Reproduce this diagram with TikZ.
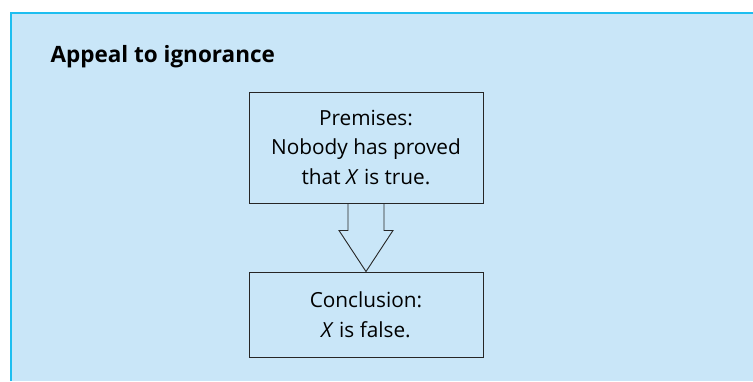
\documentclass[tikz,border=0pt]{standalone}
\usepackage{fontspec}
\setmainfont{Open Sans}
\usetikzlibrary{calc}
\definecolor{panelfill}{HTML}{C9E6F8}
\definecolor{panelline}{HTML}{1EBEF0}
\begin{document}
\begin{tikzpicture}[x=1pt,y=-1pt,
  argbox/.style={draw=black!85,line width=0.9pt,minimum width=234pt,align=center,font=\fontsize{20.8}{29.5}\selectfont,inner sep=0pt},
  bigarrow/.style={draw=black!85,line width=0.9pt,line join=miter}]
\useasboundingbox (0,0) rectangle (753,381);
\fill[white] (0,0) rectangle (753,381);
\fill[panelfill] (10,12) rectangle (753,381);
\draw[panelline,line width=1.6pt] (10.8,381) -- (10.8,12.8) -- (753,12.8);
\node[anchor=base west,font=\fontsize{22.5}{26}\bfseries\selectfont] (title) at (47,62) {Appeal to ignorance};
\node[argbox,minimum height=111pt] (prem) at (366,147.5) {Premises:\\Nobody has proved\\that \textit{X} is true.};
\node[argbox,minimum height=85pt] (conc) at (366,314.5) {Conclusion:\\\textit{X} is false.};
\draw[bigarrow] ($(prem.south)+(-18,0)$) -- ($(prem.south)+(-18,27)$) -- ($(prem.south)+(-27,27)$)
  -- (conc.north) -- ($(prem.south)+(27,27)$) -- ($(prem.south)+(18,27)$) -- ($(prem.south)+(18,0)$);
\end{tikzpicture}
\end{document}
